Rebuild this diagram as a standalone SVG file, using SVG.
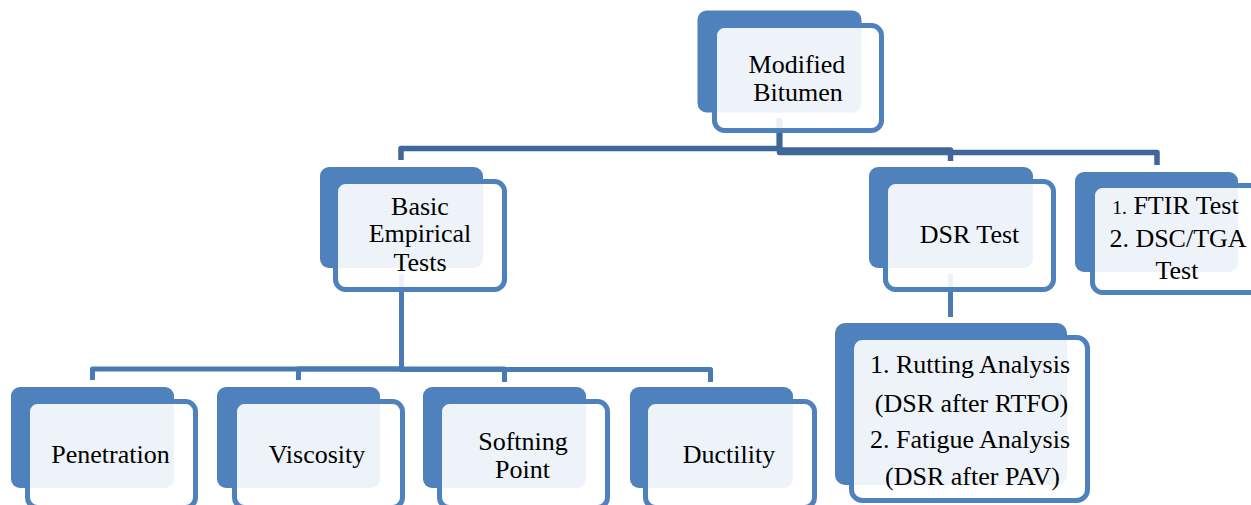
<svg xmlns="http://www.w3.org/2000/svg" width="1251" height="505" viewBox="0 0 1251 505">
<style>
.bk{fill:#4F81BD}
.fr{fill:#FFFFFF;fill-opacity:0.9;stroke:#4F81BD;stroke-width:5}
.c1{fill:none;stroke:#3F6797;stroke-width:5.5;stroke-linejoin:round}
.c2{fill:none;stroke:#4A7AB4;stroke-width:5;stroke-linejoin:round}
.t{font-family:'Liberation Serif','Times New Roman',Times,serif;font-size:26px;fill:#000;text-anchor:middle}
</style>
<rect width="1251" height="505" fill="#FFFFFF"/>
<g id="connectors">
<path class="c1" d="M779.5,118 V148.5 H401 V160"/>
<path class="c1" d="M779.5,118 V150 H950.5 V161"/>
<path class="c1" d="M779.5,118 V152.5 H1157 V165"/>
<path class="c2" d="M401.5,274 V369 H92.5 V380"/>
<path class="c2" d="M401.5,274 V369 H298.5 V380"/>
<path class="c2" d="M401.5,274 V369 H504.5 V382"/>
<path class="c2" d="M401.5,274 V369.5 H710.5 V382"/>
<path class="c2" d="M950.5,274 V317"/>
</g>
<g id="node-modified-bitumen">
<rect class="bk" x="697.5" y="10.5" width="164" height="102" rx="9"/>
<rect class="fr" x="714.5" y="25.5" width="167" height="105" rx="10"/>
<text class="t" x="797" y="72.5">Modified</text>
<text class="t" x="798" y="101">Bitumen</text>
</g>
<g id="node-basic">
<rect class="bk" x="320" y="167" width="163" height="101" rx="9"/>
<rect class="fr" x="335.5" y="181.5" width="169" height="108" rx="10"/>
<text class="t" x="420" y="214.5">Basic</text>
<text class="t" x="420" y="242">Empirical</text>
<text class="t" x="420" y="270.5">Tests</text>
</g>
<g id="node-dsr">
<rect class="bk" x="869" y="167" width="164" height="101" rx="9"/>
<rect class="fr" x="885.5" y="181.5" width="168" height="108" rx="10"/>
<text class="t" x="969.5" y="243">DSR Test</text>
</g>
<g id="node-ftir">
<rect class="bk" x="1075" y="172" width="163" height="100" rx="9"/>
<rect class="fr" x="1092.5" y="185.5" width="175" height="107" rx="10"/>
<text class="t" x="1175.5" y="214"><tspan font-size="19.5">1.</tspan> FTIR Test</text>
<text class="t" x="1178" y="247">2. DSC/TGA</text>
<text class="t" x="1177" y="279">Test</text>
</g>
<g id="node-dsr-analysis">
<rect class="bk" x="835" y="323" width="232" height="162" rx="10"/>
<rect class="fr" x="851.5" y="337.5" width="236" height="163" rx="11"/>
<text class="t" x="970" y="373">1. Rutting Analysis</text>
<text class="t" x="971.5" y="412">(DSR after RTFO)</text>
<text class="t" x="970" y="448">2. Fatigue Analysis</text>
<text class="t" x="972.5" y="485">(DSR after PAV)</text>
</g>
<g id="node-penetration">
<rect class="bk" x="11" y="387" width="163" height="101" rx="9"/>
<rect class="fr" x="27.5" y="401.5" width="168" height="106" rx="10"/>
<text class="t" x="110.5" y="463">Penetration</text>
</g>
<g id="node-viscosity">
<rect class="bk" x="217" y="387" width="163" height="101" rx="9"/>
<rect class="fr" x="234.5" y="401.5" width="168" height="106" rx="10"/>
<text class="t" x="317" y="463">Viscosity</text>
</g>
<g id="node-softning">
<rect class="bk" x="423" y="387" width="163" height="101" rx="9"/>
<rect class="fr" x="439.5" y="401.5" width="168" height="106" rx="10"/>
<text class="t" x="523" y="449.5">Softning</text>
<text class="t" x="522.5" y="477.5">Point</text>
</g>
<g id="node-ductility">
<rect class="bk" x="630" y="387" width="163" height="101" rx="9"/>
<rect class="fr" x="645.5" y="401.5" width="169" height="106" rx="10"/>
<text class="t" x="729" y="463">Ductility</text>
</g>
</svg>
